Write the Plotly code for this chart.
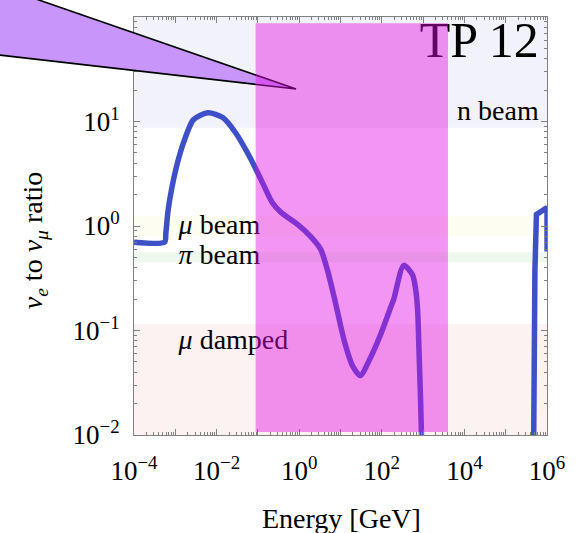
import math
import plotly.graph_objects as go

# ---- data -------------------------------------------------------------
energy_low = [1.0e-4, 5.5e-4, 5.9e-4, 6.6e-4, 8.1e-4, 1.07e-3, 1.58e-3, 2.75e-3, 6.2e-3,
              0.0141, 0.0288, 0.063, 0.129, 0.224, 0.363, 0.93, 1.9, 3.3, 4.9,
              7.2, 12.6, 19.5, 30, 52, 91, 158, 195, 339, 557, 658, 735, 794,
              867, 912, 923]
ratio_low = [0.70, 0.70, 0.85, 1.35, 2.23, 3.70, 6.27, 10.4, 12.1,
             10.9, 7.8, 4.6, 2.6, 1.67, 1.35, 1.03, 0.79, 0.60, 0.37,
             0.20, 0.077, 0.046, 0.037, 0.054, 0.089, 0.16, 0.20, 0.42, 0.34, 0.25, 0.16, 0.066,
             0.022, 0.010, 0.005]
energy_high = [4.75e5, 4.87e5, 5.1e5, 5.55e5, 7.2e5, 8.95e5, 1.0e6, 1.006e6]
ratio_high = [0.008, 0.066, 0.38, 1.29, 1.37, 1.44, 1.5, 0.57]

# horizontal bands (y ranges) and labels
band_names = ["n beam", "μ beam", "π beam", "μ damped"]
band_lo = [8.7, 0.80, 0.45, 0.01]
band_hi = [100, 1.25, 0.56, 0.115]
band_colors = ["#f1f2fa", "#fdfdf1", "#eff8ef", "#fcf2f2"]

# highlighted energy window
window_x = [0.088, 4000]
window_y = [0.0107, 87]

x_tickvals = [1e-4, 1e-3, 1e-2, 1e-1, 1, 10, 100, 1e3, 1e4, 1e5, 1e6]
x_ticktext = ["10<sup>−4</sup>", "", "10<sup>−2</sup>", "", "10<sup>0</sup>", "",
              "10<sup>2</sup>", "", "10<sup>4</sup>", "", "10<sup>6</sup>"]
y_tickvals = [0.01, 0.1, 1, 10, 100]
y_ticktext = ["10<sup>−2</sup>", "10<sup>−1</sup>", "10<sup>0</sup>",
              "10<sup>1</sup>", "10<sup>2</sup>"]

XMIN, XMAX = -4, 6
YMIN, YMAX = -2, 2

def minors(lo, hi):
    out = []
    for d in range(lo, hi):
        for m in range(2, 10):
            out.append(m * 10 ** d)
    return out

font_family = "'Liberation Serif', 'Times New Roman', Times, 'DejaVu Serif', serif"

fig = go.Figure()

fig.add_trace(go.Scatter(x=energy_low, y=ratio_low, mode="lines",
                         line=dict(color="#3d50c5", width=5.5, shape="spline", smoothing=0.7),
                         hoverinfo="skip", showlegend=False))
fig.add_trace(go.Scatter(x=energy_high, y=ratio_high, mode="lines",
                         line=dict(color="#3d50c5", width=5.5),
                         hoverinfo="skip", showlegend=False))

# band labels as text traces (below the highlight window)
label_x = [6.3e5, 1.2e-3, 1.2e-3, 1.2e-3]
label_y = [12.1, 0.97, 0.50, 0.077]
label_pos = ["middle left", "middle right", "middle right", "middle right"]
for name, lx, ly, pos in zip(band_names, label_x, label_y, label_pos):
    txt = name.replace("μ", "<i>μ</i>").replace("π", "<i>π</i>")
    fig.add_trace(go.Scatter(x=[lx], y=[ly], mode="text", text=[txt],
                             textposition=pos,
                             textfont=dict(family=font_family, size=28, color="black"),
                             hoverinfo="skip", showlegend=False))
fig.add_trace(go.Scatter(x=[6.3e5], y=[55], mode="text", text=["TP 12"],
                         textposition="middle left",
                         textfont=dict(family=font_family, size=50, color="black"),
                         hoverinfo="skip", showlegend=False))

shapes = []
for lo, hi, col in zip(band_lo, band_hi, band_colors):
    shapes.append(dict(type="rect", xref="x", yref="y", x0=1e-4, x1=1e6,
                       y0=lo, y1=hi, fillcolor=col, line=dict(width=0),
                       layer="below"))

# pointer triangle (paper coordinates, drawn above axes)
L, T, W, H = 134, 17, 418, 418
def px2paper(px, py):
    return (px - L) / W, (T + H - py) / H
p1 = px2paper(-12, -17)
p2 = px2paper(298, 89)
p3 = px2paper(-12, 54)
shapes.append(dict(type="path", xref="paper", yref="paper",
                   path=f"M {p1[0]},{p1[1]} L {p2[0]},{p2[1]} L {p3[0]},{p3[1]} Z",
                   fillcolor="#c896fa", line=dict(color="black", width=1.6),
                   layer="above"))

# highlight window, in paper coords so it stacks above the triangle
wx0 = (math.log10(window_x[0]) - XMIN) / (XMAX - XMIN)
wx1 = (math.log10(window_x[1]) - XMIN) / (XMAX - XMIN)
wy0 = (math.log10(window_y[0]) - YMIN) / (YMAX - YMIN)
wy1 = (math.log10(window_y[1]) - YMIN) / (YMAX - YMIN)
shapes.append(dict(type="rect", xref="paper", yref="paper", x0=wx0, x1=wx1,
                   y0=wy0, y1=wy1, fillcolor="rgba(228,10,228,0.43)",
                   line=dict(width=0), layer="above"))

axis_common = dict(type="log", showgrid=False, zeroline=False, showline=True,
                   linecolor="#808080", linewidth=1, mirror="ticks",
                   ticks="inside", ticklen=6, tickcolor="#808080",
                   tickfont=dict(family=font_family, size=27, color="black"))

fig.update_layout(
    width=577, height=533,
    margin=dict(l=134, r=25, t=17, b=98),
    paper_bgcolor="white", plot_bgcolor="white",
    font=dict(family=font_family, color="black"),
    shapes=shapes,
    xaxis=dict(range=[XMIN, XMAX], tickmode="array", tickvals=x_tickvals,
               ticktext=x_ticktext, ticklabelstandoff=12,
               minor=dict(tickmode="array", tickvals=minors(XMIN, XMAX),
                          ticks="inside", ticklen=3, tickcolor="#808080"),
               **axis_common),
    yaxis=dict(range=[YMIN, YMAX], tickmode="array", tickvals=y_tickvals,
               ticktext=y_ticktext, ticklabelstandoff=8,
               minor=dict(tickmode="array", tickvals=minors(YMIN, YMAX),
                          ticks="inside", ticklen=3, tickcolor="#808080"),
               **axis_common),
    annotations=[
        dict(text="Energy [GeV]", xref="paper", yref="paper", x=0.502, y=-0.199,
             xanchor="center", yanchor="middle", showarrow=False,
             font=dict(family=font_family, size=28, color="black")),
        dict(text="<i>ν</i><sub><i>e</i></sub> to <i>ν</i><sub><i>μ</i></sub> ratio",
             xref="paper", yref="paper", x=-0.242, y=0.466, textangle=-90,
             xanchor="center", yanchor="middle", showarrow=False,
             font=dict(family=font_family, size=28, color="black")),
    ],
)

fig.write_html("out.html")
